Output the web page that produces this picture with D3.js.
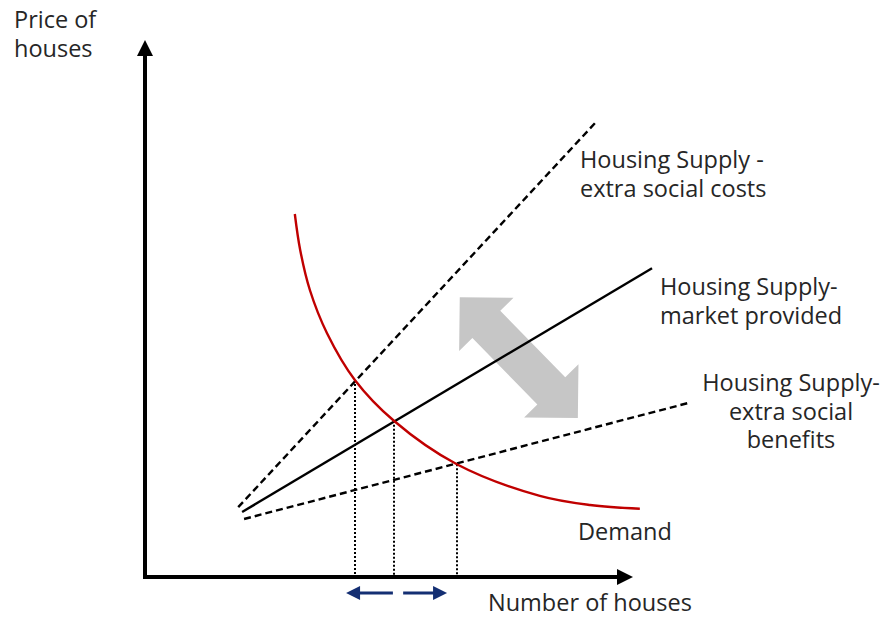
<!DOCTYPE html>
<html>
<head>
<meta charset="utf-8">
<script src="https://cdn.jsdelivr.net/npm/d3@7"></script>
<style>
  body { margin: 0; background: #fff; }
  text { font-family: "Open Sans", sans-serif; fill: #262626; }
</style>
</head>
<body>
<div id="chart"></div>
<script>
// quantity / price in abstract units (0..10 on each axis)
var socialCosts = [[1.91, 1.30], [9.24, 8.47]];
var marketSupply = [[1.99, 1.21], [10.39, 5.75]];
var socialBenefits = [[2.03, 1.08], [11.13, 3.24]];
var demand = [[3.07, 6.76], [3.18, 6.09], [3.38, 5.34], [3.73, 4.54], [4.30, 3.67],
  [5.10, 2.91], [6.39, 2.10], [8.09, 1.51], [9.12, 1.34], [10.14, 1.27]];
// equilibrium points where demand meets each supply line
var equilibria = [[4.30, 3.67], [5.10, 2.91], [6.39, 2.10]];
// shift arrows under the x axis (from, to)
var shiftArrows = [[5.08, 4.12], [5.29, 6.19]];
// big grey double arrow (end, end)
var greyArrow = [[6.45, 5.21], [8.87, 2.96]];

var svgWidth = 890;
var svgHeight = 621;

var svg = d3.select("#chart")
  .append("svg")
  .attr("width", svgWidth)
  .attr("height", svgHeight);

var xScale = d3.scaleLinear().domain([0, 10]).range([145, 633]);
var yScale = d3.scaleLinear().domain([0, 10]).range([577, 40]);

var line = d3.line()
  .x(d => xScale(d[0]))
  .y(d => yScale(d[1]));

//grey double arrow
function doubleArrow(a, b, headLen, headHalf, shaftHalf) {
  var p1 = [xScale(a[0]), yScale(a[1])];
  var p2 = [xScale(b[0]), yScale(b[1])];
  var dx = p2[0] - p1[0], dy = p2[1] - p1[1];
  var len = Math.sqrt(dx * dx + dy * dy);
  var u = [dx / len, dy / len];
  var n = [-u[1], u[0]];
  function pt(base, along, side) {
    return [base[0] + u[0] * along + n[0] * side, base[1] + u[1] * along + n[1] * side];
  }
  return [
    p1,
    pt(p1, headLen, headHalf),
    pt(p1, headLen, shaftHalf),
    pt(p2, -headLen, shaftHalf),
    pt(p2, -headLen, headHalf),
    p2,
    pt(p2, -headLen, -headHalf),
    pt(p2, -headLen, -shaftHalf),
    pt(p1, headLen, -shaftHalf),
    pt(p1, headLen, -headHalf)
  ];
}

svg.append("polygon")
  .attr("points", doubleArrow(greyArrow[0], greyArrow[1], 38, 38, 19.5).map(p => p.join(",")).join(" "))
  .attr("fill", "#c6c6c6");

// dotted drop lines (snapped to whole pixels so the dots stay crisp)
svg.selectAll(".drop")
  .data(equilibria)
  .enter()
  .append("line")
  .attr("class", "drop")
  .attr("x1", d => Math.round(xScale(d[0])))
  .attr("x2", d => Math.round(xScale(d[0])))
  .attr("y1", d => yScale(d[1]))
  .attr("y2", yScale(0))
  .attr("stroke", "#000")
  .attr("stroke-width", 2)
  .attr("stroke-dasharray", "2,2");

// supply lines
svg.append("path")
  .attr("d", line(socialCosts))
  .attr("fill", "none")
  .attr("stroke", "#000")
  .attr("stroke-width", 2.4)
  .attr("stroke-dasharray", "7,4");

svg.append("path")
  .attr("d", line(marketSupply))
  .attr("fill", "none")
  .attr("stroke", "#000")
  .attr("stroke-width", 2.4);

svg.append("path")
  .attr("d", line(socialBenefits))
  .attr("fill", "none")
  .attr("stroke", "#000")
  .attr("stroke-width", 2.4)
  .attr("stroke-dasharray", "7,4");

// demand curve
svg.append("path")
  .attr("d", line.curve(d3.curveCatmullRom)(demand))
  .attr("fill", "none")
  .attr("stroke", "#c00000")
  .attr("stroke-width", 2.4);
line.curve(d3.curveLinear);

// axes
var x0 = xScale(0), y0 = yScale(0);
var xTip = xScale(10), yTip = yScale(10);
svg.append("line")
  .attr("x1", x0).attr("y1", y0 + 2)
  .attr("x2", x0).attr("y2", yTip + 14)
  .attr("stroke", "#000").attr("stroke-width", 4);
svg.append("polygon")
  .attr("points", [[x0, yTip], [x0 - 8, yTip + 16], [x0 + 8, yTip + 16]].map(p => p.join(",")).join(" "))
  .attr("fill", "#000");
svg.append("line")
  .attr("x1", x0 - 2).attr("y1", y0)
  .attr("x2", xTip - 14).attr("y2", y0)
  .attr("stroke", "#000").attr("stroke-width", 4);
svg.append("polygon")
  .attr("points", [[xTip, y0], [xTip - 16, y0 - 8], [xTip - 16, y0 + 8]].map(p => p.join(",")).join(" "))
  .attr("fill", "#000");

// blue shift arrows
var arrowY = y0 + 16;
shiftArrows.forEach(function (a) {
  var from = xScale(a[0]), to = xScale(a[1]);
  var dir = to > from ? 1 : -1;
  svg.append("line")
    .attr("x1", from).attr("y1", arrowY)
    .attr("x2", to - dir * 10).attr("y2", arrowY)
    .attr("stroke", "#142f73").attr("stroke-width", 3);
  svg.append("polygon")
    .attr("points", [[to, arrowY], [to - dir * 14, arrowY - 7], [to - dir * 14, arrowY + 7]].map(p => p.join(",")).join(" "))
    .attr("fill", "#142f73");
});

// labels
function label(lines, x, y, anchor) {
  var t = svg.append("text")
    .attr("x", x)
    .attr("y", y)
    .attr("font-size", "23.5px")
    .attr("text-anchor", anchor || "start");
  lines.forEach(function (s, i) {
    t.append("tspan")
      .attr("x", x)
      .attr("dy", i === 0 ? 0 : 28.5)
      .text(s);
  });
}

label(["Price of", "houses"], 14, 28);
label(["Housing Supply -", "extra social costs"], 580, 168);
label(["Housing Supply-", "market provided"], 660, 295);
label(["Housing Supply-", "extra social", "benefits"], 791, 391, "middle");
label(["Demand"], 578, 540);
label(["Number of houses"], 488, 611);
</script>
</body>
</html>
